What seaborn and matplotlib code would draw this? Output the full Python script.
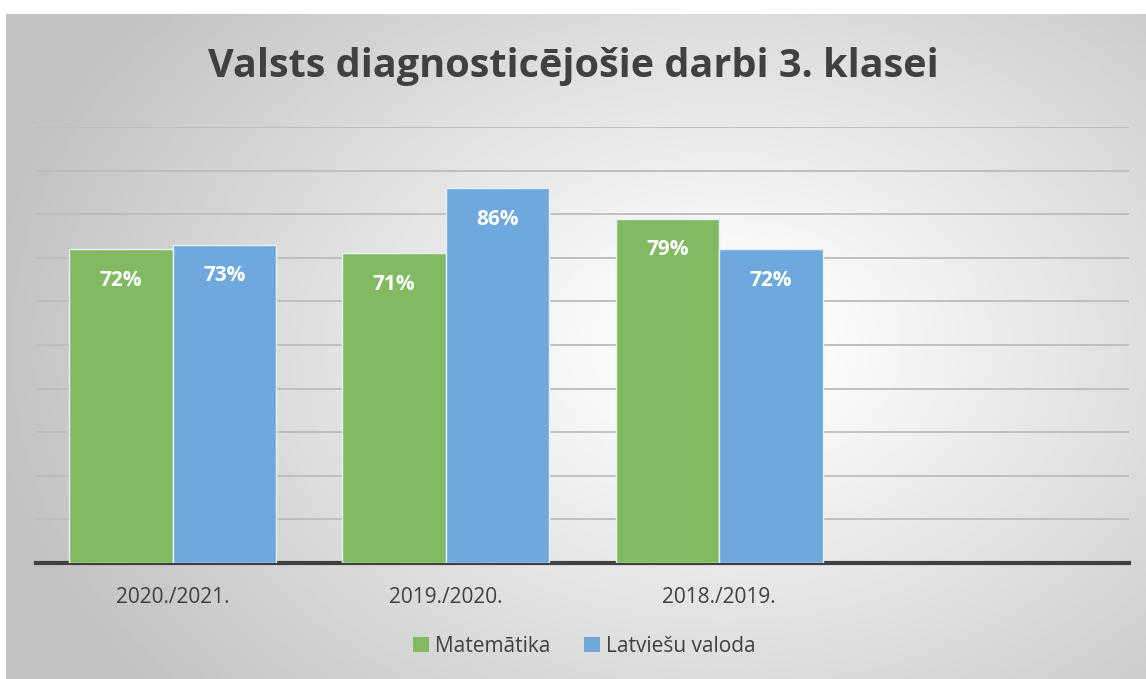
import numpy as np
import pandas as pd
import matplotlib
matplotlib.use("Agg")
import matplotlib.pyplot as plt
import seaborn as sns
from matplotlib.patches import Patch

# --- Data ---
years = ["2020./2021.", "2019./2020.", "2018./2019."]
matematika = [72, 71, 79]
latviesu = [73, 86, 72]
series_names = ["Matemātika", "Latviešu valoda"]
colors = ["#82BA62", "#6FA8DC"]

df = pd.DataFrame({
    "year": years * 2,
    "value": matematika + latviesu,
    "subject": [series_names[0]] * 3 + [series_names[1]] * 3,
})

sns.set_theme(style="white")
plt.rcParams["font.family"] = ["Open Sans", "DejaVu Sans"]

fig = plt.figure(figsize=(11.46, 6.79), dpi=100)

# gradient background panel (light centre, grey edges)
bg = fig.add_axes([6 / 1146, 0, 1 - 6 / 1146, 1 - 14 / 679])
yy, xx = np.mgrid[0:1:300j, 0:1:500j]
dist = np.sqrt((xx - 0.63) ** 2 + ((yy - 0.5) * 0.8) ** 2)
shade = 1.0 - 0.24 * np.clip((dist - 0.05) / 0.6, 0, 1)
bg.imshow(shade, cmap="gray", vmin=0, vmax=1, aspect="auto", extent=[0, 1, 0, 1], origin="upper")
bg.set_axis_off()

ax = fig.add_axes([36 / 1146, 1 - 563 / 679, (1129 - 36) / 1146, (563 - 127) / 679])
ax.patch.set_alpha(0)
sns.barplot(data=df, x="year", y="value", hue="subject", palette=colors,
            width=0.757, saturation=1, edgecolor="#e8f0f8", linewidth=1,
            legend=False, ax=ax, zorder=3)

ax.set_xlim(-0.5, 3.5)
ax.set_ylim(0, 100)
ax.set_yticks(np.arange(0, 101, 10))
ax.yaxis.grid(True, color="#bcbcbc", linewidth=1.3, zorder=0)
ax.set_axisbelow(True)
ax.tick_params(axis="y", left=False, labelleft=False)
ax.tick_params(axis="x", bottom=False, labelsize=15, labelcolor="#404040", pad=11)
ax.set_xlabel("")
ax.set_ylabel("")
for side in ["top", "right", "left"]:
    ax.spines[side].set_visible(False)
ax.spines["bottom"].set_color("#404040")
ax.spines["bottom"].set_linewidth(3)

for cont in ax.containers:
    ax.bar_label(cont, labels=[f"{int(v)}%" for v in cont.datavalues],
                 label_type="edge", padding=-30, color="white",
                 fontsize=15, fontweight="bold")

fig.text(0.5, 1 - 67 / 679, "Valsts diagnosticējošie darbi 3. klasei",
         ha="center", va="center", fontsize=28.5, fontweight="bold", color="#404040")

handles = [Patch(facecolor=c, edgecolor="none") for c in colors]
fig.legend(handles, series_names, loc="center", bbox_to_anchor=(0.51, 1 - 646 / 679),
           ncol=2, frameon=False, fontsize=15, labelcolor="#404040",
           handlelength=0.75, handleheight=0.75, handletextpad=0.3, columnspacing=1.6)

fig.savefig("out.png", dpi=100)
